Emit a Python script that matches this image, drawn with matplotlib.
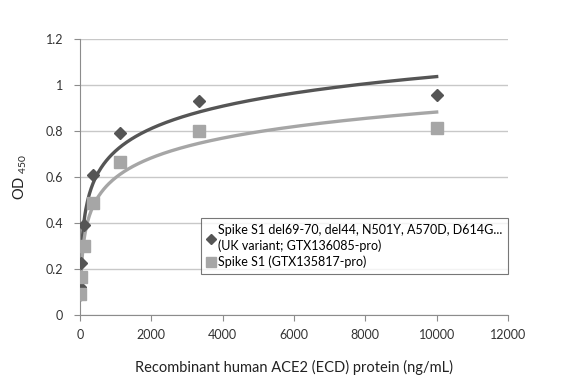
import numpy as np
import matplotlib
matplotlib.use("Agg")
import matplotlib.pyplot as plt
from matplotlib.lines import Line2D

plt.rcParams['font.family'] = ['Lato', 'DejaVu Sans']
plt.rcParams['mathtext.default'] = 'regular'

# concentrations (ng/mL), 3-fold dilutions
conc = [10000, 3333.3, 1111.1, 370.4, 123.5, 41.2, 13.7]
od_uk = [0.955, 0.93, 0.79, 0.61, 0.39, 0.225, 0.12]
od_wt = [0.815, 0.80, 0.665, 0.485, 0.30, 0.165, 0.09]

label_uk = "Spike S1 del69-70, del44, N501Y, A570D, D614G...\n(UK variant; GTX136085-pro)"
label_wt = "Spike S1 (GTX135817-pro)"
dark = '#555555'
light = '#a6a6a6'

fig = plt.figure(figsize=(5.82, 3.82), dpi=100)
ax = fig.add_axes([80 / 582, 1 - 315 / 382, 428 / 582, 276 / 382])


def log_fit(x, y):
    a, b = np.polyfit(np.log(x), y, 1)
    xs = np.linspace(min(x), max(x), 400)
    return xs, a * np.log(xs) + b


for y, col, mk, ms in [(od_uk, dark, 'D', 6), (od_wt, light, 's', 8)]:
    xs, ys = log_fit(conc, y)
    ax.plot(xs, ys, color=col, lw=2.4, zorder=2)
    ax.plot(conc, y, linestyle='none', marker=mk, ms=ms, color=col, zorder=3)

ax.set_xlim(0, 12000)
ax.set_ylim(0, 1.2)
ax.set_xticks(np.arange(0, 12001, 2000))
ax.set_yticks(np.arange(0, 1.21, 0.2))
ax.set_yticklabels(['0', '0.2', '0.4', '0.6', '0.8', '1', '1.2'])
ax.yaxis.grid(True, color='#c8c8c8', lw=1)
ax.set_axisbelow(True)
for s in ['top', 'right']:
    ax.spines[s].set_visible(False)
for s in ['left', 'bottom']:
    ax.spines[s].set_color('#8c8c8c')
ax.tick_params(axis='both', colors='#8c8c8c', labelcolor='#333333', labelsize=9, length=4)
ax.tick_params(axis='y', pad=8)
ax.tick_params(axis='x', pad=6)

ax.set_xlabel('Recombinant human ACE2 (ECD) protein (ng/mL)', fontsize=10.5, color='#222222', labelpad=14)
ax.set_ylabel('OD $_{450}$', fontsize=10.5, color='#222222', labelpad=12)

handles = [Line2D([], [], linestyle='none', marker='D', ms=5, color=dark),
           Line2D([], [], linestyle='none', marker='s', ms=7, color=light)]
leg = ax.legend(handles, [label_uk, label_wt], loc='upper right', bbox_to_anchor=(1.0, 0.35),
                fontsize=9, frameon=True, fancybox=False, handlelength=0.6, handletextpad=0.3,
                borderpad=0.45, labelspacing=0.25, borderaxespad=0)
leg.get_frame().set_edgecolor('#555555')
leg.get_frame().set_linewidth(0.8)
for t in leg.get_texts():
    t.set_linespacing(1.35)

fig.savefig('out.png', dpi=100)
